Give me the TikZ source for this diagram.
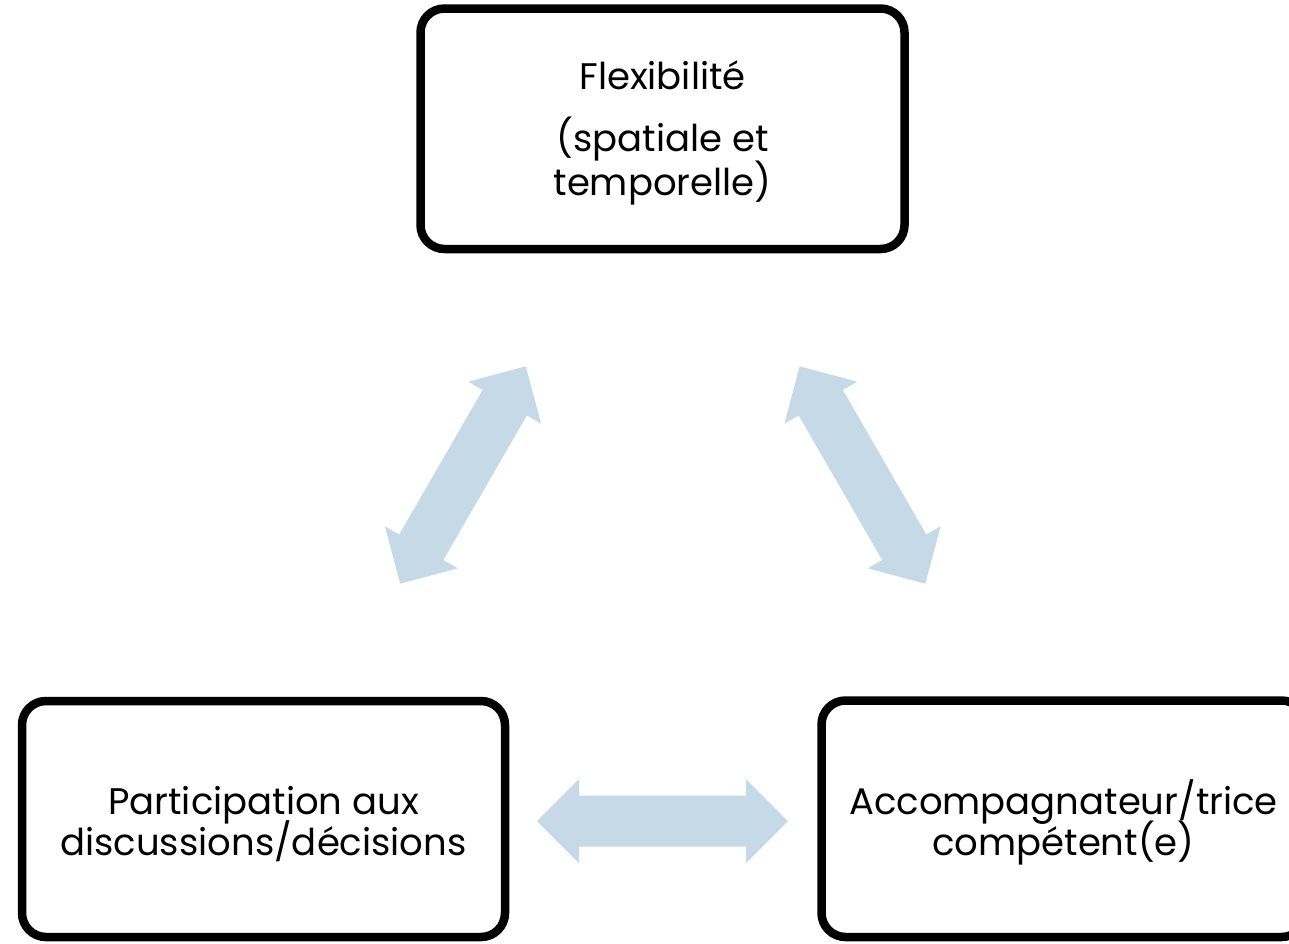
\documentclass[tikz,border=0pt]{standalone}
\usepackage{fontspec}
\setmainfont{Poppins}
\definecolor{arrowblue}{RGB}{197,217,231}
\tikzset{
  box/.style={draw=black, line width=8.5pt, rounded corners=24pt, fill=white, inner sep=0pt},
  txt/.style={anchor=base, inner sep=0pt, font=\fontsize{37}{41}\selectfont},
  pics/dblarrow/.style={code={
    \fill[arrowblue] (-125.5,0) -- (-83.5,-42) -- (-83.5,-25.5) -- (83.5,-25.5) -- (83.5,-42)
      -- (125.5,0) -- (83.5,42) -- (83.5,25.5) -- (-83.5,25.5) -- (-83.5,42) -- cycle;
  }}
}
\begin{document}
\begin{tikzpicture}[x=1pt,y=-1pt]
\clip (0,0) rectangle (1289,943);
\fill[white] (0,0) rectangle (1289,943);
% boxes
\node[box, minimum width=484pt, minimum height=240.5pt] (top) at (662.5,128.75) {};
\node[box, minimum width=483pt, minimum height=236pt] (left) at (263.5,819) {};
\node[box, minimum width=484pt, minimum height=236.5pt] (right) at (1063.5,818.75) {};
% texts
\node[txt] (t1) at (662.5,89) {Flexibilité};
\node[txt] (t2) at (662.5,151.5) {(spatiale et};
\node[txt] (t3) at (662.5,195) {temporelle)};
\node[txt] (l1) at (263.5,814.5) {Participation aux};
\node[txt] (l2) at (263.5,855) {discussions/décisions};
\node[txt] (r1) at (1063.5,814) {Accompagnateur/trice};
\node[txt] (r2) at (1063.5,855) {compétent(e)};
% arrows
\pic[rotate=60] (aleft) at (463,475) {dblarrow};
\pic[rotate=-60] (aright) at (862.5,475) {dblarrow};
\pic (abottom) at (662.5,821) {dblarrow};
\end{tikzpicture}
\end{document}
